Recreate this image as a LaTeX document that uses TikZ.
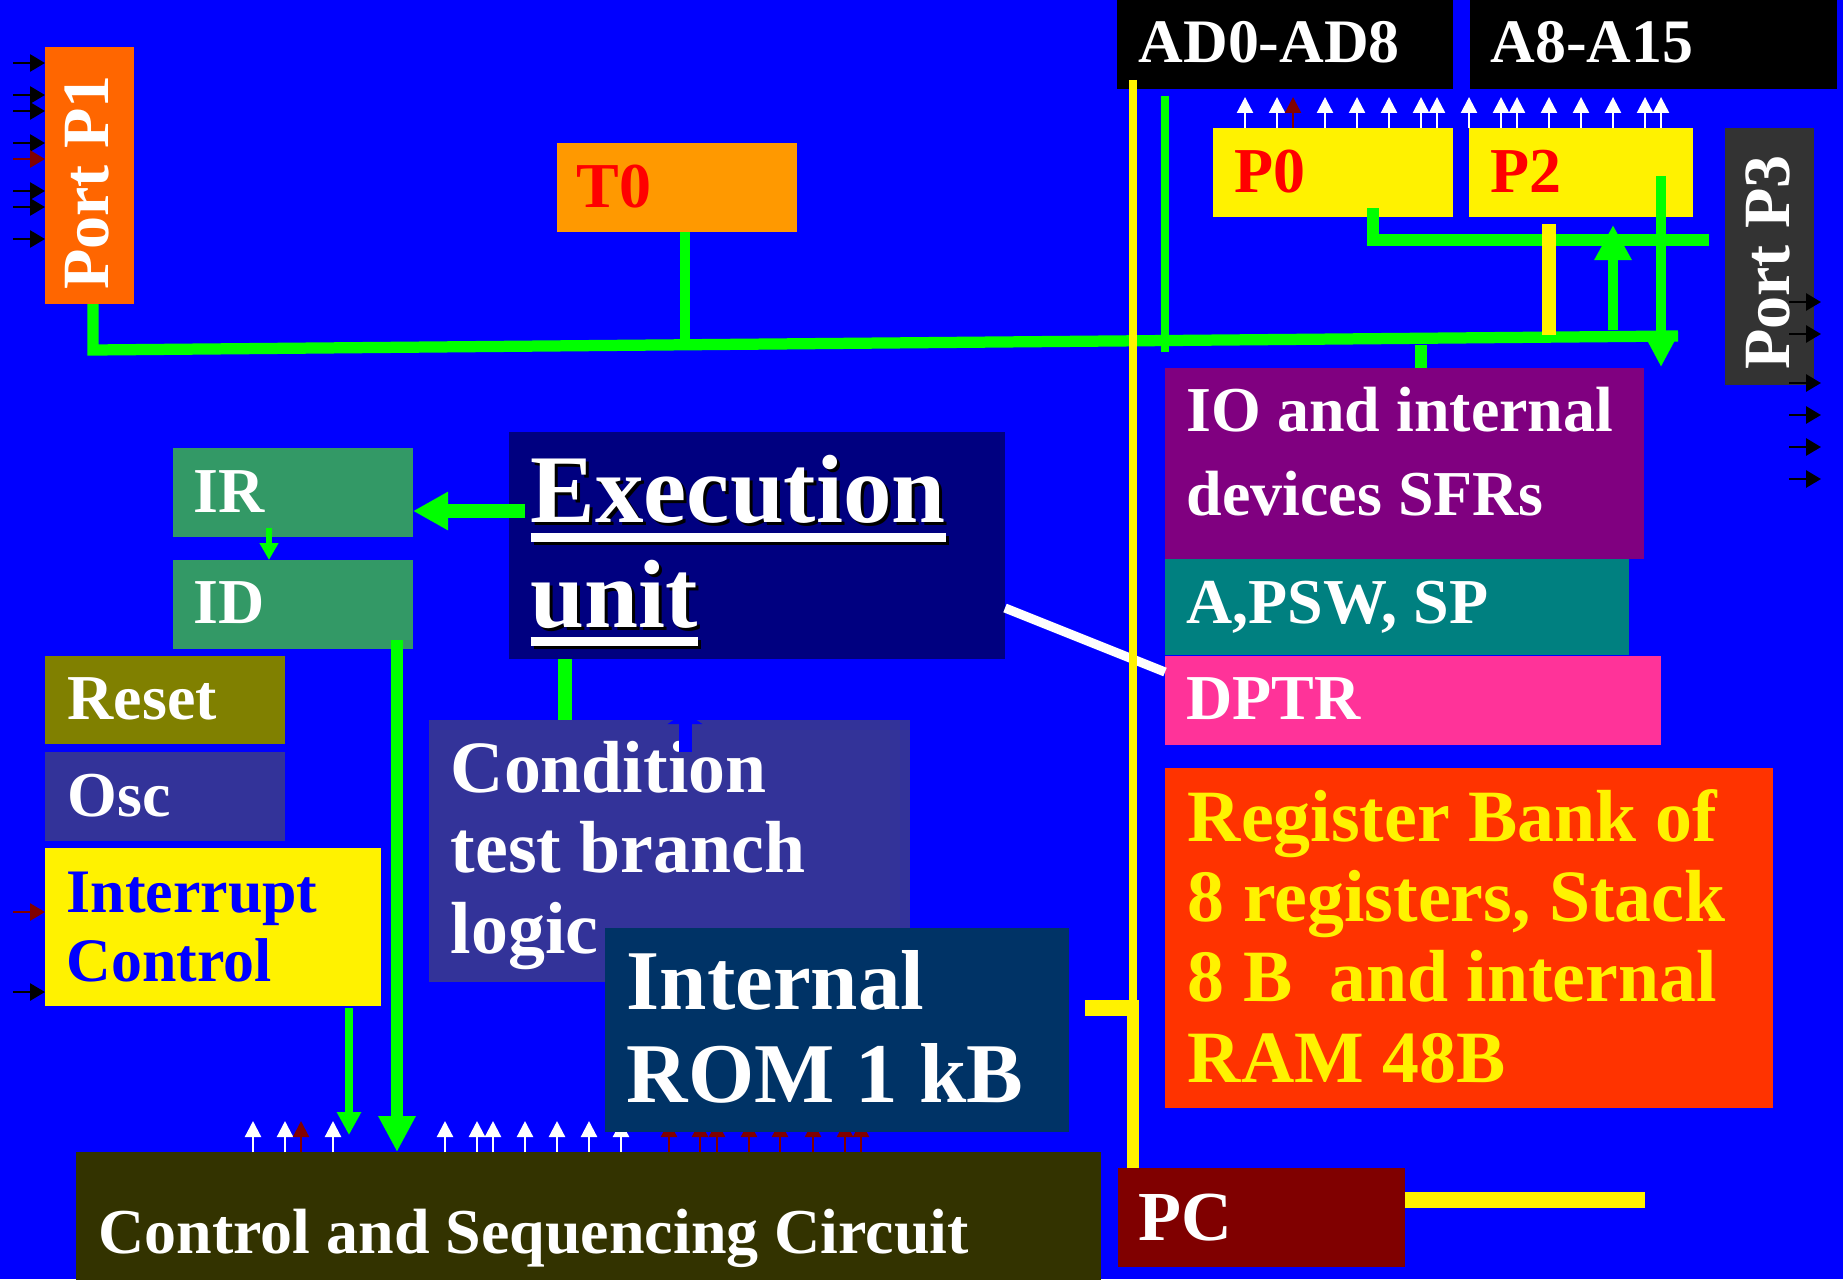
\documentclass[tikz,border=0pt]{standalone}
\usepackage{fontspec}
\setmainfont{Liberation Serif}
\usepackage{tikz}
\usetikzlibrary{calc}
\usetikzlibrary{positioning}
\usetikzlibrary{arrows.meta}

\definecolor{cBg}{HTML}{0000FF}
\definecolor{cGreen}{HTML}{00FF00}
\definecolor{cP1}{HTML}{FF6600}
\definecolor{cT0}{HTML}{FF9900}
\definecolor{cP3}{HTML}{333333}
\definecolor{cIO}{HTML}{800080}
\definecolor{cAcc}{HTML}{008080}
\definecolor{cDptr}{HTML}{FF3399}
\definecolor{cReg}{HTML}{FF3300}
\definecolor{cIR}{HTML}{339966}
\definecolor{cReset}{HTML}{808000}
\definecolor{cOsc}{HTML}{333399}
\definecolor{cExec}{HTML}{000080}
\definecolor{cRom}{HTML}{003366}
\definecolor{cCtrl}{HTML}{333300}
\definecolor{cPC}{HTML}{800000}
\definecolor{cRed}{HTML}{800000}

\newcommand\fBody{\fontsize{18.2pt}{23.9pt}\selectfont\bfseries}
\newcommand\fAddr{\fontsize{17.6pt}{20pt}\selectfont\bfseries}
\newcommand\fPort{\fontsize{18.8pt}{20pt}\selectfont\bfseries}
\newcommand\fIrq{\fontsize{17.6pt}{19.6pt}\selectfont\bfseries}
\newcommand\fMid{\fontsize{21pt}{22.8pt}\selectfont\bfseries}
\newcommand\fRom{\fontsize{24.2pt}{26.2pt}\selectfont\bfseries}
\newcommand\fExec{\fontsize{27.6pt}{29.6pt}\selectfont\bfseries}
\newcommand\fPC{\fontsize{20pt}{22pt}\selectfont\bfseries}
\newcommand\thickul[1]{\setbox0\hbox{#1}\rlap{\rule[-0.19cm]{\wd0}{0.09cm}}\box0}

\tikzstyle{blk} = [anchor=north west, inner sep=0pt, outer sep=0pt]
\tikzstyle{lbl} = [anchor=base west, inner sep=0pt, align=left, text=white, font=\fBody]
\tikzstyle{pinin} = [line width=0.8pt, -{Triangle[length=0.15cm, width=0.17cm]}]
\tikzstyle{pinup} = [line width=0.65pt, white, -{Triangle[length=0.16cm, width=0.16cm]}]
\tikzstyle{wire} = [draw=cGreen, line width=3.2pt]
\tikzstyle{yline} = [draw=yellow, line width=2.3pt]

\begin{document}
\begin{tikzpicture}
\clip (0,0) rectangle (18.43,-12.79);
\fill[cBg] (0,0) rectangle (18.43,-12.79);

% ports and address buses
\node[blk, fill=cP1, minimum width=0.89cm, minimum height=2.57cm] (p1) at (0.45,-0.47) {};
\node[rotate=90, text=white, font=\fPort] (p1_txt) at ($(p1.center)+(-0.02,-0.07)$) {Port P1};
\node[blk, fill=cT0, minimum width=2.40cm, minimum height=0.89cm] (t0) at (5.57,-1.43) {};
\node[lbl, text=red] (t0_txt) at ($(t0.north west)+(0.19,-0.65)$) {T0};
\node[blk, fill=black, minimum width=3.36cm, minimum height=0.99cm] (ad) at (11.17,0.10) {};
\node[lbl, font=\fAddr] (ad_txt) at ($(ad.north west)+(0.21,-0.73)$) {AD0-AD8};
\node[blk, fill=black, minimum width=3.67cm, minimum height=0.99cm] (ahi) at (14.70,0.10) {};
\node[lbl, font=\fAddr] (ahi_txt) at ($(ahi.north west)+(0.20,-0.73)$) {A8-A15};
\node[blk, fill=yellow, minimum width=2.40cm, minimum height=0.89cm] (p0) at (12.13,-1.28) {};
\node[lbl, text=red] (p0_txt) at ($(p0.north west)+(0.21,-0.64)$) {P0};
\node[blk, fill=yellow, minimum width=2.24cm, minimum height=0.89cm] (p2) at (14.69,-1.28) {};
\node[lbl, text=red] (p2_txt) at ($(p2.north west)+(0.21,-0.64)$) {P2};
\node[blk, fill=cP3, minimum width=0.89cm, minimum height=2.57cm] (p3) at (17.25,-1.28) {};
\node[rotate=90, text=white, font=\fPort] (p3_txt) at ($(p3.center)+(-0.02,-0.06)$) {Port P3};

% registers
\node[blk, fill=cIO, minimum width=4.79cm, minimum height=1.91cm] (io) at (11.65,-3.68) {};
\node[lbl] (io_txt) at ($(io.north west)+(0.21,-1.47)$) {IO and internal\\devices SFRs};
\node[blk, fill=cAcc, minimum width=4.64cm, minimum height=0.96cm] (apsw) at (11.65,-5.59) {};
\node[lbl] (apsw_txt) at ($(apsw.north west)+(0.21,-0.64)$) {A,PSW, SP};
\node[blk, fill=cDptr, minimum width=4.96cm, minimum height=0.89cm] (dptr) at (11.65,-6.56) {};
\node[lbl] (dptr_txt) at ($(dptr.north west)+(0.21,-0.63)$) {DPTR};
\node[blk, fill=cReg, minimum width=6.08cm, minimum height=3.40cm] (regs) at (11.65,-7.68) {};
\node[lbl, text=yellow, font=\fMid] (regs_txt) at ($(regs.north west)+(0.22,-3.14)$) {Register Bank of\\8 registers, Stack\\8 B\ \ and internal\\RAM 48B};

% left column
\node[blk, fill=cIR, minimum width=2.40cm, minimum height=0.89cm] (ir) at (1.73,-4.48) {};
\node[lbl] (ir_txt) at ($(ir.north west)+(0.20,-0.64)$) {IR};
\node[blk, fill=cIR, minimum width=2.40cm, minimum height=0.89cm] (id) at (1.73,-5.60) {};
\node[lbl] (id_txt) at ($(id.north west)+(0.20,-0.63)$) {ID};
\node[blk, fill=cReset, minimum width=2.40cm, minimum height=0.88cm] (reset) at (0.45,-6.56) {};
\node[lbl] (reset_txt) at ($(reset.north west)+(0.22,-0.63)$) {Reset};
\node[blk, fill=cOsc, minimum width=2.40cm, minimum height=0.89cm] (osc) at (0.45,-7.52) {};
\node[lbl] (osc_txt) at ($(osc.north west)+(0.22,-0.64)$) {Osc};
\node[blk, fill=yellow, minimum width=3.36cm, minimum height=1.58cm] (irq) at (0.45,-8.48) {};
\node[lbl, text=cBg, font=\fIrq] (irq_txt) at ($(irq.north west)+(0.21,-1.33)$) {Interrupt\\Control};

% centre
\node[blk, fill=cExec, minimum width=4.96cm, minimum height=2.27cm] (exec) at (5.09,-4.32) {};
\node[lbl, text=black, font=\fExec] (exec_shd) at ($(exec.north west)+(0.24,-1.98)$) {\thickul{Execution}\\\thickul{unit}};
\node[lbl, font=\fExec] (exec_txt) at ($(exec.north west)+(0.21,-1.95)$) {\thickul{Execution}\\\thickul{unit}};
\node[blk, fill=cOsc, minimum width=4.81cm, minimum height=2.62cm] (cond) at (4.29,-7.20) {};
\node[lbl, font=\fMid] (cond_txt) at ($(cond.north west)+(0.21,-2.33)$) {Condition\\test branch\\logic};
\node[blk, fill=cCtrl, minimum width=10.25cm, minimum height=1.60cm] (ctrl) at (0.76,-11.52) {};
\node[lbl] (ctrl_txt) at ($(ctrl.north west)+(0.22,-1.01)$) {Control and Sequencing Circuit};
\node[blk, fill=cPC, minimum width=2.87cm, minimum height=0.99cm] (pc) at (11.18,-11.68) {};
\node[lbl, font=\fPC] (pc_txt) at ($(pc.north west)+(0.20,-0.72)$) {PC};

% pins
\foreach \y in {0.63,0.95,1.11,1.43,1.91,2.07,2.39}
    \draw[pinin] (0.13,-\y) -- (p1.west |- 0,-\y);
\draw[pinin, cRed] (0.13,-1.59) -- (p1.west |- 0,-1.59);
\foreach \y in {3.02,3.34,3.83,4.15,4.47,4.79}
    \draw[pinin] ($(p3.east |- 0,-\y)+(-0.25,0)$) -- ++(0.32,0);
\draw[pinin, cRed] (0.13,-9.12) -- (irq.west |- 0,-9.12);
\draw[pinin] (0.13,-9.92) -- (irq.west |- 0,-9.92);
\foreach \x in {12.45,12.77,13.25,13.57,13.89,14.21,14.37,14.69,15.01,15.17,15.49,15.81,16.13,16.45,16.61}
    \draw[pinup] (\x,0 |- p0.north) -- ++(0,0.31);
\draw[pinup, cRed] (12.93,0 |- p0.north) -- ++(0,0.31);
\foreach \x in {2.53,2.85,3.33,4.45,4.77,4.93,5.25,5.57,5.89,6.21}
    \draw[pinup] (\x,0 |- ctrl.north) -- ++(0,0.31);
\foreach \x in {3.01,6.69,7.00,7.17,7.49,7.80,8.13,8.45,8.61}
    \draw[pinup, cRed] (\x,0 |- ctrl.north) -- ++(0,0.31);

\node[blk, fill=cRom, minimum width=4.64cm, minimum height=2.04cm] (rom) at (6.05,-9.28) {};
\node[lbl, font=\fRom] (rom_txt) at ($(rom.north west)+(0.21,-1.74)$) {Internal\\ROM 1 kB};

% internal bus
\draw[wire] ($(p1.south)+(0.035,0)$) -- (0.93,-3.50) -- (16.78,-3.36);
\draw[wire, line width=2.8pt] ($(t0.south)+(0.08,0)$) -- ++(0,-1.13);
\draw[wire, line width=2.4pt] ($(ad.south west)+(0.48,-0.07)$) -- ++(0,-2.56);
\draw[wire, line width=3.4pt] ($(io.north)+(0.165,0)$) -- ++(0,0.23);
\draw[wire] ($(p0.south)+(0.40,0.09)$) -- ++(0,-0.32) -- ++(3.36,0);
\draw[yline, line width=4.2pt] ($(p2.south)+(-0.32,-0.07)$) -- ++(0,-1.11);
\draw[wire, line width=2.85pt, -{Triangle[length=0.35cm, width=0.35cm]}] ($(p2.south)+(0.32,-1.13)$) -- ++(0,1.05);
\draw[wire, line width=2.85pt, -{Triangle[length=0.30cm, width=0.29cm]}] ($(p2.south)+(0.80,0.41)$) -- ++(0,-1.91);

% control paths
\draw[wire, line width=3.8pt, -{Triangle[length=0.35cm, width=0.36cm]}] ($(exec.north west)+(0.16,-0.79)$) coordinate (e2i) -- (e2i -| ir.east);
\draw[wire, line width=1.7pt, -{Triangle[length=0.17cm, width=0.18cm]}] ($(ir.south)+(-0.24,0.09)$) coordinate (i2d) -- (i2d |- id.north);
\draw[wire, line width=3.4pt, -{Triangle[length=0.36cm, width=0.35cm]}] ($(id.south east)+(-0.16,0.09)$) coordinate (d2c) -- (d2c |- ctrl.north);
\draw[wire, line width=2.3pt, -{Triangle[length=0.23cm, width=0.23cm]}] ($(irq.south east)+(-0.32,-0.02)$) coordinate (q2c) -- ($(q2c |- ctrl.north)+(0,0.17)$);
\draw[wire, line width=4pt] ($(exec.south west)+(0.56,0)$) coordinate (e2c) -- (e2c |- cond.north);
\draw[cBg, line width=3.7pt, -{Triangle[length=0.12cm, width=0.34cm]}] ($(cond.north west)+(2.56,-0.32)$) -- ++(0,0.40);

% program counter path
\draw[white, line width=2.6pt] ($(exec.south east)+(0,0.51)$) -- ($(dptr.south west)+(0,0.73)$);
\draw[yline] ($(ad.south west)+(0.16,0.09)$) -- ++(0,-9.20);
\draw[yline, line width=4.5pt] ($(pc.north west)+(0.19,1.60)$) -- ++(-0.52,0);
\draw[yline, line width=3.4pt] ($(pc.north west)+(0.15,0)$) -- ++(0,1.68);
\draw[yline, line width=4.5pt] ($(pc.east)+(0,0.175)$) -- ++(2.40,0);
\end{tikzpicture}
\end{document}
